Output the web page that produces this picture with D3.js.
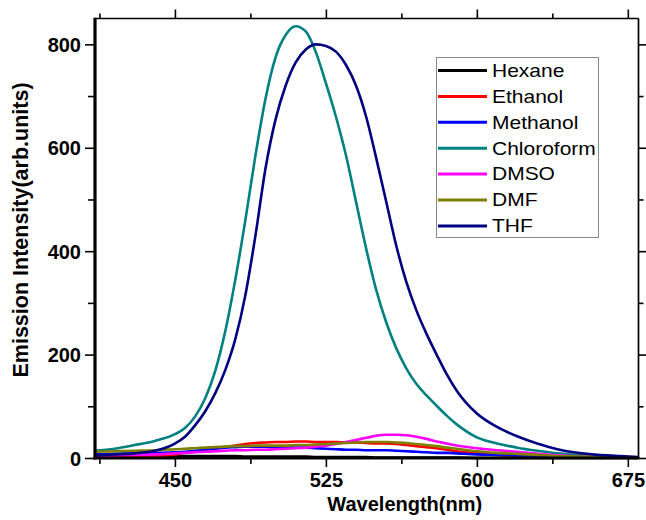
<!DOCTYPE html>
<html>
<head>
<meta charset="utf-8">
<script src="https://cdn.jsdelivr.net/npm/d3@7.9.0/dist/d3.min.js"></script>
<style>
  body { margin: 0; background: #fff; }
  svg { display: block; }
  text { font-family: Arial, "Liberation Sans", sans-serif; }
</style>
</head>
<body>
<svg id="chart" width="646" height="520"></svg>
<script>
// wavelength grid (nm) shared by all solvents
const wavelength = [410, 420, 430, 440, 450, 455, 460, 465, 470, 475, 480, 485, 490, 495, 500, 505, 510, 515, 520, 525,
  530, 535, 540, 545, 550, 555, 560, 565, 570, 575, 580, 585, 590, 600, 610, 620, 630, 640, 650, 660, 670, 680];

const hexane = [3, 3, 3, 3, 4, 4, 4, 4, 4, 4, 4, 3, 3, 3, 3, 3, 3, 3, 2, 2,
  2, 2, 2, 2, 1, 1, 1, 1, 1, 1, 1, 1, 1, 0, 0, 0, 0, 0, 0, 0, 0, 0];
const ethanol = [2, 2, 3, 4, 7, 10, 12, 15, 18, 21, 24, 27, 29, 30, 31, 31, 32, 32, 31, 31,
  31, 30, 30, 29, 28, 28, 27, 25, 23, 21, 19, 16, 13, 9, 6, 4, 3, 2, 1, 1, 1, 0];
const methanol = [7, 8, 9, 10, 11, 12, 14, 16, 18, 20, 21, 22, 22, 22, 21, 21, 20, 20, 19, 18,
  17, 16, 16, 15, 15, 15, 14, 13, 12, 11, 10, 10, 9, 7, 6, 5, 4, 3, 2, 2, 1, 1];
const chloroform = [14, 18, 25, 33, 46, 58, 80, 115, 168, 245, 345, 460, 585, 695, 775, 818, 835, 825, 785, 725,
  660, 585, 495, 405, 325, 262, 212, 173, 143, 121, 101, 82, 65, 40, 28, 20, 14, 9, 6, 4, 2, 1];
const dmso = [4, 5, 6, 7, 9, 10, 11, 12, 13, 14, 15, 15, 16, 16, 17, 18, 19, 20, 22, 24,
  27, 31, 35, 39, 43, 45, 45, 44, 41, 37, 32, 28, 24, 19, 15, 12, 8, 5, 3, 2, 1, 1];
const dmf = [12, 13, 14, 15, 17, 18, 19, 20, 21, 22, 23, 23, 24, 24, 24, 24, 25, 25, 26, 27,
  28, 29, 30, 31, 31, 31, 30, 29, 27, 25, 23, 20, 18, 13, 10, 8, 6, 4, 3, 2, 1, 1];
const thf = [5, 7, 9, 14, 28, 41, 63, 90, 125, 170, 230, 315, 430, 560, 655, 720, 765, 790, 800, 797,
  786, 760, 720, 660, 580, 495, 410, 340, 285, 240, 200, 162, 130, 86, 60, 42, 28, 17, 10, 6, 4, 2];

const seriesNames = ['Hexane', 'Ethanol', 'Methanol', 'Chloroform', 'DMSO', 'DMF', 'THF'];
const seriesValues = [hexane, ethanol, methanol, chloroform, dmso, dmf, thf];
const seriesColors = ['#000000', '#ff0000', '#0000ff', '#008080', '#ff00ff', '#808000', '#000080'];

const xMajor = [450, 525, 600, 675];
const xMinor = [412.5, 487.5, 562.5, 637.5];
const yMajor = [0, 200, 400, 600, 800];
const yMinor = [100, 300, 500, 700];

const plotL = 95, plotR = 638.5, plotT = 18.5, plotB = 458;

const svg = d3.select('#chart');

let x = d3.scaleLinear().domain([410.3, 680.3]).range([plotL, plotR]);
let y = d3.scaleLinear().domain([0, 850]).range([plotB, plotT]);

// curves
let line = d3.line()
  .x((d) => x(d[0]))
  .y((d) => y(d[1]))
  .curve(d3.curveMonotoneX);

let plot = svg.append('g');
seriesValues.forEach((vals, i) => {
  let pts = wavelength.map((w, j) => [w, vals[j]]);
  plot.append('path')
    .attr('d', line(pts))
    .attr('fill', 'none')
    .attr('stroke', seriesColors[i])
    .attr('stroke-width', 2.6)
    .attr('stroke-linejoin', 'round');
});

// ticks, all four sides point outward
function tickAxis(axisFn, scale, values, size, labels) {
  return axisFn(scale).tickValues(values).tickSize(size).tickSizeOuter(0)
    .tickFormat(labels ? d3.format('d') : '');
}

function addAxis(transform, axis, fontSize) {
  let g = svg.append('g').attr('transform', transform).call(axis);
  g.select('.domain').remove();
  g.selectAll('line').attr('stroke', '#000').attr('stroke-width', 1.6);
  g.selectAll('text')
    .attr('font-size', fontSize)
    .attr('font-weight', 'bold')
    .attr('fill', '#000');
  return g;
}

// bottom
addAxis(`translate(0,${plotB})`, tickAxis(d3.axisBottom, x, xMajor, 9, true).tickPadding(4), 20)
  .selectAll('text').attr('dy', '0.78em');
addAxis(`translate(0,${plotB})`, tickAxis(d3.axisBottom, x, xMinor, 6, false), 0);
// top
addAxis(`translate(0,${plotT})`, tickAxis(d3.axisTop, x, xMajor, 9, false), 0);
addAxis(`translate(0,${plotT})`, tickAxis(d3.axisTop, x, xMinor, 5, false), 0);
// left
addAxis(`translate(${plotL},0)`, tickAxis(d3.axisLeft, y, yMajor, 10, true).tickPadding(4), 20)
  .selectAll('text').attr('dy', '0.36em');
addAxis(`translate(${plotL},0)`, tickAxis(d3.axisLeft, y, yMinor, 7, false), 0);
// right
addAxis(`translate(${plotR},0)`, tickAxis(d3.axisRight, y, yMajor, 8, false), 0);
addAxis(`translate(${plotR},0)`, tickAxis(d3.axisRight, y, yMinor, 5, false), 0);

// frame: thick left/bottom, thin top/right
svg.append('line').attr('x1', plotL).attr('x2', plotR).attr('y1', plotT).attr('y2', plotT)
  .attr('stroke', '#000').attr('stroke-width', 1.7);
svg.append('line').attr('x1', plotR).attr('x2', plotR).attr('y1', plotT).attr('y2', plotB)
  .attr('stroke', '#000').attr('stroke-width', 1.7);
svg.append('line').attr('x1', plotL).attr('x2', plotL).attr('y1', plotT - 0.8).attr('y2', plotB + 1.5)
  .attr('stroke', '#000').attr('stroke-width', 3.2);
svg.append('line').attr('x1', plotL - 1.5).attr('x2', plotR + 0.8).attr('y1', plotB).attr('y2', plotB)
  .attr('stroke', '#000').attr('stroke-width', 3.2);

// axis titles
svg.append('text')
  .attr('x', (plotL + plotR) / 2 + 38)
  .attr('y', 511)
  .attr('text-anchor', 'middle')
  .attr('font-size', 20)
  .attr('font-weight', 'bold')
  .text('Wavelength(nm)');

svg.append('text')
  .attr('transform', `translate(28,230) rotate(-90)`)
  .attr('text-anchor', 'middle')
  .attr('font-size', 21.5)
  .attr('font-weight', 'bold')
  .text('Emission Intensity(arb.units)');

// legend
let legend = svg.append('g');
legend.append('rect')
  .attr('x', 436.5).attr('y', 57.5).attr('width', 162).attr('height', 180)
  .attr('fill', '#fff').attr('stroke', '#888').attr('stroke-width', 1);

seriesNames.forEach((name, i) => {
  let ry = 70.5 + i * 25.9;
  legend.append('line')
    .attr('x1', 438).attr('x2', 487).attr('y1', ry).attr('y2', ry)
    .attr('stroke', seriesColors[i]).attr('stroke-width', 3);
  legend.append('text')
    .attr('transform', `translate(492,${ry + 6.3}) scale(1.2,1)`)
    .attr('font-size', 17.5)
    .text(name);
});
</script>
</body>
</html>
